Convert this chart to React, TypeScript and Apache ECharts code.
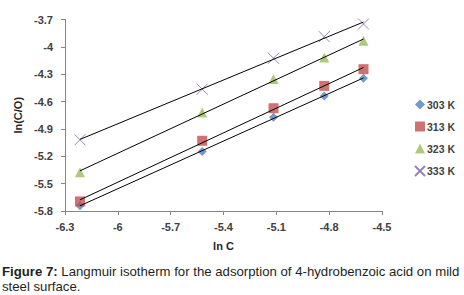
import React, { useEffect, useRef } from "react";
import * as echarts from "echarts";

const lnC = [-6.215, -5.521, -5.116, -4.828, -4.605];
const seriesNames = ["303 K", "313 K", "323 K", "333 K"];
const values303 = [-5.742, -5.148, -4.771, -4.538, -4.344];
const values313 = [-5.695, -5.03, -4.673, -4.428, -4.245];
const values323 = [-5.375, -4.72, -4.352, -4.118, -3.932];
const values333 = [-5.019, -4.464, -4.125, -3.888, -3.749];
const colors = ["#4F81BD", "#C0504D", "#9BBB59", "#8064A2"];
const yTicks = [-5.8, -5.5, -5.2, -4.9, -4.6, -4.3, -4, -3.7];
const xTicks = [-6.3, -6, -5.7, -5.4, -5.1, -4.8, -4.5];

function fit(xs: number[], ys: number[]) {
  const n = xs.length;
  const mx = xs.reduce((a, b) => a + b, 0) / n;
  const my = ys.reduce((a, b) => a + b, 0) / n;
  let sxy = 0, sxx = 0;
  for (let i = 0; i < n; i++) {
    sxy += (xs[i] - mx) * (ys[i] - my);
    sxx += (xs[i] - mx) * (xs[i] - mx);
  }
  const b = sxy / sxx;
  const a = my - b * mx;
  const x0 = xs[0], x1 = xs[n - 1];
  return [[x0, a + b * x0], [x1, a + b * x1]];
}

export default function App() {
  const ref = useRef<HTMLDivElement>(null);
  useEffect(() => {
    document.body.style.margin = "0";
    const chart = echarts.init(ref.current!, null, { renderer: "svg" });
    const all = [values303, values313, values323, values333];
    const symbols = ["diamond", "rect", "triangle", "path://M0,0L10,10M10,0L0,10"];
    const sizes = [9, 10, 10, 11];
    const scatter = all.map((vals, i) => ({
      name: seriesNames[i],
      type: "scatter",
      data: lnC.map((x, j) => [x, vals[j]]),
      symbol: symbols[i],
      symbolSize: sizes[i],
      itemStyle:
        i === 3
          ? { color: "rgba(0,0,0,0)", borderColor: colors[i], borderWidth: 1 }
          : { color: colors[i] },
      z: 2,
    }));
    const lines = all.map((vals) => ({
      type: "line",
      data: fit(lnC, vals),
      symbol: "none",
      lineStyle: { color: "#000", width: 1 },
      silent: true,
      z: 3,
    }));
    const tickFont = {
      fontFamily: "Liberation Sans",
      fontSize: 11,
      fontWeight: "bold",
      color: "#404040",
    };
    chart.setOption({
      animation: false,
      grid: { left: 65, right: 82, top: 19.5, bottom: 84 },
      xAxis: {
        type: "value",
        min: -6.3,
        max: -4.5,
        name: "ln C",
        nameLocation: "middle",
        nameGap: 29,
        nameTextStyle: { fontFamily: "Liberation Sans", fontSize: 11, fontWeight: "bold", color: "#262626" },
        axisLine: { show: true, lineStyle: { color: "#868686" } },
        axisTick: { show: true, length: 4, lineStyle: { color: "#868686" }, customValues: xTicks },
        axisLabel: { ...tickFont, margin: 10, customValues: xTicks, formatter: (v: number) => String(v) },
        splitLine: { show: false },
      },
      yAxis: {
        type: "value",
        min: -5.8,
        max: -3.7,
        name: "ln(C/O)",
        nameLocation: "middle",
        nameGap: 42,
        nameRotate: 90,
        nameTextStyle: { fontFamily: "Liberation Sans", fontSize: 11, fontWeight: "bold", color: "#262626" },
        axisLine: { show: true, lineStyle: { color: "#868686" } },
        axisTick: { show: true, length: 4, lineStyle: { color: "#868686" }, customValues: yTicks },
        axisLabel: { ...tickFont, margin: 12, customValues: yTicks, formatter: (v: number) => String(v) },
        splitLine: { show: false },
      },
      legend: {
        data: seriesNames,
        orient: "vertical",
        left: 409,
        top: 94,
        itemWidth: 10,
        itemHeight: 10,
        itemGap: 11,
        textStyle: { fontFamily: "Liberation Sans", fontSize: 10.5, fontWeight: "bold", color: "#404040", padding: [0, 0, 0, -3] },
      },
      graphic: [
        {
          type: "text",
          left: 2,
          top: 264,
          style: {
            text: "{b|Figure 7:} Langmuir isotherm for the adsorption of 4-hydrobenzoic acid on mild\nsteel surface.",
            font: "13.2px 'Liberation Sans'",
            fill: "#231f20",
            lineHeight: 15,
            rich: { b: { fontWeight: "bold", fontSize: 13.2, fontFamily: "Liberation Sans", fill: "#231f20" } },
          },
        },
      ],
      series: [...scatter, ...lines],
    });
    return () => chart.dispose();
  }, []);
  return <div ref={ref} style={{ width: 464, height: 295 }} />;
}
